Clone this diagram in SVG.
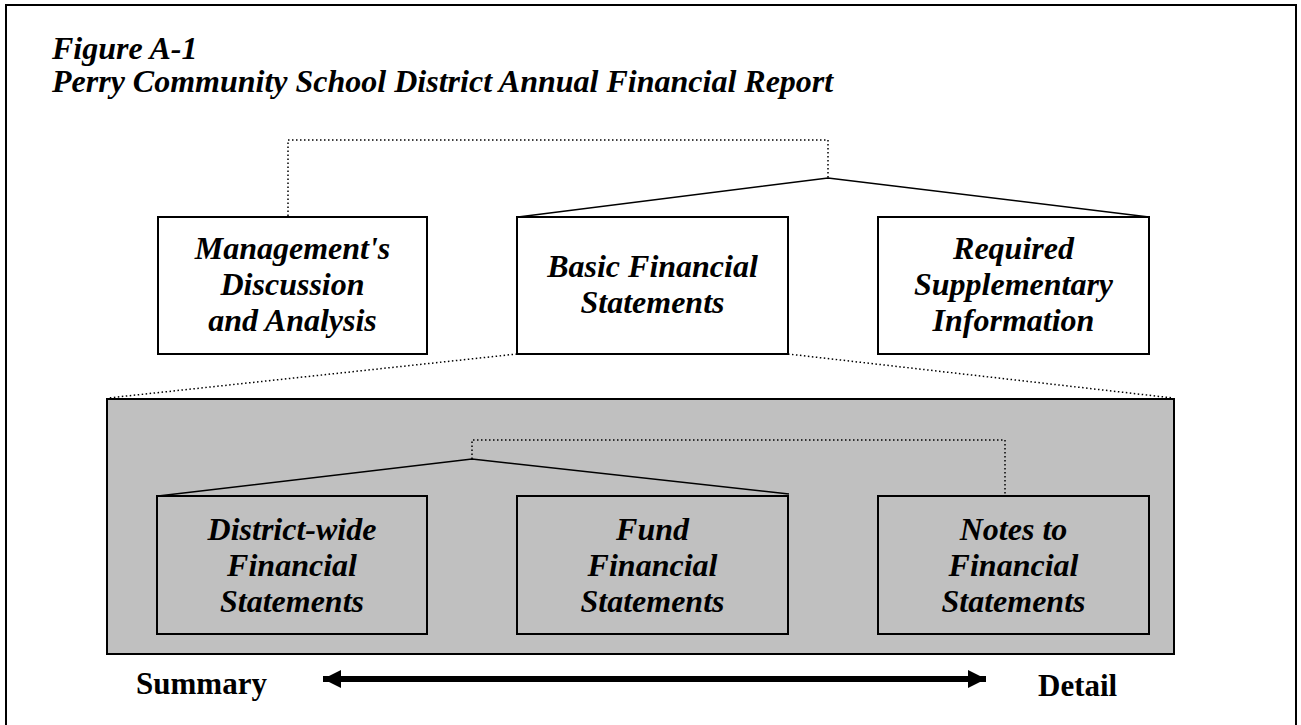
<svg xmlns="http://www.w3.org/2000/svg" width="1301" height="725" viewBox="0 0 1301 725">
<style>
.t{font-family:"Liberation Serif","Times New Roman",serif;font-weight:bold;font-style:italic;font-size:32px;fill:#000}
.bt{font-family:"Liberation Serif","Times New Roman",serif;font-weight:bold;font-style:italic;font-size:32px;fill:#000;text-anchor:middle}
.lbl{font-family:"Liberation Serif","Times New Roman",serif;font-weight:bold;font-size:31px;fill:#000}
.box{fill:#fff;stroke:#000;stroke-width:2}
.gbox{fill:#c0c0c0;stroke:#000;stroke-width:2}
.dot{fill:none;stroke:#000;stroke-width:1.5;stroke-dasharray:1.5 2.5}
.sol{fill:none;stroke:#000;stroke-width:1.5}
</style>
<defs>
<marker id="ah" markerWidth="18" markerHeight="18" viewBox="0 0 18 18" refX="18" refY="9" orient="auto-start-reverse" markerUnits="userSpaceOnUse">
<path d="M0,0 L18,9 L0,18 Z" fill="#000"/>
</marker>
</defs>
<rect x="6" y="5" width="1290" height="724" fill="#fff" stroke="#000" stroke-width="2"/>
<g id="title">
<text class="t" x="52" y="59">Figure A-1</text>
<text class="t" x="52" y="92">Perry Community School District Annual Financial Report</text>
</g>
<g id="node-mda">
<rect class="box" x="158" y="217" width="269" height="137"/>
<text class="bt" x="292.5" y="259">Management's</text>
<text class="bt" x="292.5" y="295">Discussion</text>
<text class="bt" x="292.5" y="331">and Analysis</text>
</g>
<g id="node-bfs">
<rect class="box" x="517" y="217" width="271" height="137"/>
<text class="bt" x="652.5" y="277">Basic Financial</text>
<text class="bt" x="652.5" y="313">Statements</text>
</g>
<g id="node-rsi">
<rect class="box" x="878" y="217" width="271" height="137"/>
<text class="bt" x="1013.5" y="259">Required</text>
<text class="bt" x="1013.5" y="295">Supplementary</text>
<text class="bt" x="1013.5" y="331">Information</text>
</g>
<g id="node-detail">
<rect class="gbox" x="107" y="399" width="1067" height="255"/>
</g>
<g id="node-dwfs">
<rect class="gbox" x="157" y="496" width="270" height="138"/>
<text class="bt" x="292" y="540">District-wide</text>
<text class="bt" x="292" y="576">Financial</text>
<text class="bt" x="292" y="612">Statements</text>
</g>
<g id="node-ffs">
<rect class="gbox" x="517" y="496" width="271" height="138"/>
<text class="bt" x="652.5" y="540">Fund</text>
<text class="bt" x="652.5" y="576">Financial</text>
<text class="bt" x="652.5" y="612">Statements</text>
</g>
<g id="node-notes">
<rect class="gbox" x="878" y="496" width="271" height="138"/>
<text class="bt" x="1013.5" y="540">Notes to</text>
<text class="bt" x="1013.5" y="576">Financial</text>
<text class="bt" x="1013.5" y="612">Statements</text>
</g>
<g id="connectors">
<polyline class="dot" points="288,216 288,140 828,140 828,178"/>
<polyline class="sol" points="518,217 828,178 1149,217"/>
<line class="dot" x1="517" y1="354" x2="108" y2="398"/>
<line class="dot" x1="788" y1="354" x2="1173" y2="398"/>
<polyline class="dot" points="472,459 472,440 1005,440 1005,494"/>
<polyline class="sol" points="158,496 472,459 789,494"/>
<line x1="323" y1="679" x2="986" y2="679" stroke="#000" stroke-width="6" marker-start="url(#ah)" marker-end="url(#ah)"/>
</g>
<g id="labels">
<text class="lbl" x="136" y="694">Summary</text>
<text class="lbl" x="1038" y="696">Detail</text>
</g>
</svg>
